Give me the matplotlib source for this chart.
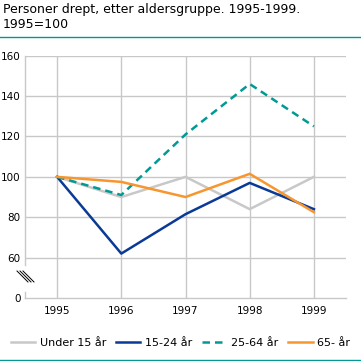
import matplotlib
matplotlib.use("Agg")
import matplotlib.pyplot as plt
from matplotlib.lines import Line2D

# data (1995 = 100)
years = [1995, 1996, 1997, 1998, 1999]
under15 = [100, 90, 100, 84, 100]
age15_24 = [100, 62, 81.5, 97, 84]
age25_64 = [100, 91, 121, 146, 125]
age65 = [100, 97.5, 90, 101.5, 82.5]
labels = ["Under 15 år", "15-24 år", "25-64 år", "65- år"]
ytick_vals = [40, 60, 80, 100, 120, 140, 160]   # 40 is drawn as "0" (broken axis)
ytick_labels = ["0", "60", "80", "100", "120", "140", "160"]

W = H = 361
fig = plt.figure(figsize=(W / 100, H / 100), dpi=100)
plt.rcParams['font.family'] = ['DejaVu Sans']

def fx(px):
    return px / W

def fy(py):
    return 1 - py / H

gridc = "#c8c8c8"
teal = "#009a94"
ax = fig.add_axes([fx(25), fy(298), fx(346 - 25), (298 - 55.7) / H])
ax.set_xlim(1994.5, 1999.5)
ax.set_ylim(40, 160)

for v in ytick_vals[1:]:
    ax.axhline(v, color=gridc, lw=1.0, zorder=0)
for y in years:
    ax.axvline(y, color=gridc, lw=1.0, zorder=0)

ax.plot(years, under15, color="#c8c8c8", lw=1.8, label=labels[0])
ax.plot(years, age15_24, color="#0a3a96", lw=1.8, label=labels[1])
ax.plot(years, age25_64, color=teal, lw=1.8, dashes=(3, 2), label=labels[2])
ax.plot(years, age65, color="#f7962e", lw=1.8, label=labels[3])

ax.set_xticks(years)
ax.set_xticklabels([str(y) for y in years])
ax.set_yticks(ytick_vals)
ax.set_yticklabels(ytick_labels)
ax.tick_params(length=0, labelsize=7.5, colors="#000000")
ax.tick_params(axis="y", pad=3)
ax.tick_params(axis="x", pad=6)
for s in ["top", "right", "left"]:
    ax.spines[s].set_visible(False)
ax.spines["bottom"].set_color(gridc)
ax.spines["bottom"].set_linewidth(1.0)

# left axis with break
fig.add_artist(Line2D([fx(25), fx(25)], [fy(55.7), fy(265)], color=gridc, lw=1.0))
fig.add_artist(Line2D([fx(25), fx(25)], [fy(292), fy(298)], color=gridc, lw=1.0))
for d in (-3, 0, 3):
    fig.add_artist(Line2D([fx(20 + d), fx(31 + d)], [fy(271), fy(282)], color="#000000", lw=0.7))

# title and rules
fig.text(fx(3), fy(3), "Personer drept, etter aldersgruppe. 1995-1999.\n1995=100",
         fontsize=9, va="top", ha="left", linespacing=1.25)
fig.add_artist(Line2D([0, 1], [fy(37), fy(37)], color=teal, lw=1.0))
fig.add_artist(Line2D([0, 1], [fy(359.5), fy(359.5)], color=teal, lw=1.0))

fig.legend(loc="center", bbox_to_anchor=(0.5, fy(343)), ncol=4, frameon=False,
           fontsize=8, handlelength=2.2, handletextpad=0.4, columnspacing=0.9,
           borderaxespad=0)

fig.savefig("out.png", dpi=100)
